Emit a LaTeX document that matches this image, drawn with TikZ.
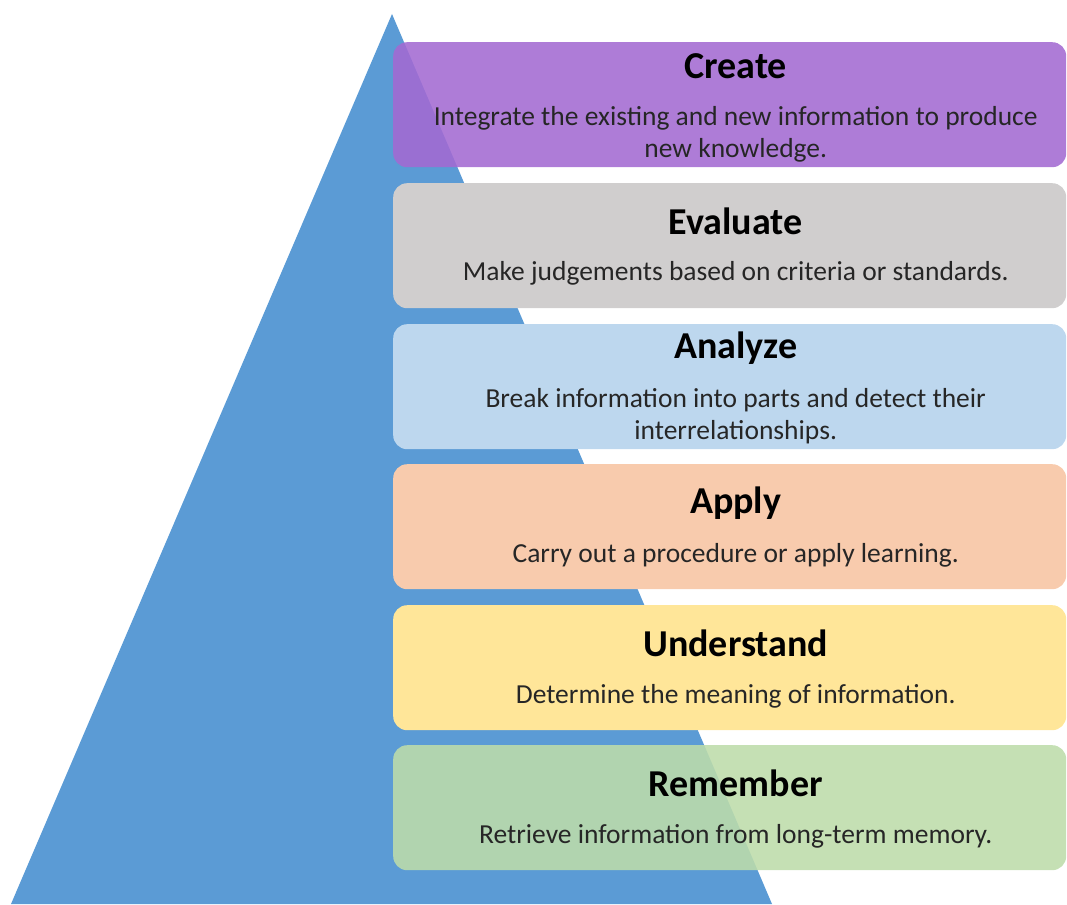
\documentclass[tikz,border=0pt]{standalone}
\usepackage{fontspec}
\setmainfont{Carlito}
\usetikzlibrary{positioning}
\definecolor{azulP}{HTML}{5B9BD5}
\definecolor{lila}{HTML}{A36AD2}
\definecolor{gris}{HTML}{D0CECE}
\definecolor{celeste}{HTML}{BDD7EE}
\definecolor{durazno}{HTML}{F8CBAD}
\definecolor{amarillo}{HTML}{FFE699}
\definecolor{verde}{HTML}{BDDCAA}
\tikzstyle{nivel}=[rectangle, rounded corners=14, minimum width=673, minimum height=125, anchor=north west, inner sep=0]
\tikzstyle{vidrio}=[fill opacity=.88]
\tikzstyle{titulo}=[font=\fontsize{38}{42}\selectfont\bfseries, inner sep=0, text=black]
\tikzstyle{desc}=[font=\fontsize{27.5}{32}\selectfont, inner sep=0, align=center, text=black!85]

\begin{document}
\begin{tikzpicture}[x=1pt,y=-1pt]
		\useasboundingbox (0,0) rectangle (1067,904);
		\fill[azulP] (392,14) -- (772,904) -- (11,904) -- cycle;
		
		\node[nivel,vidrio,fill=lila](create) at (393,42){};
		\node[titulo](createT) at ([xshift=6,yshift=-24]create.north){Create};
		\node[desc](createD) at ([xshift=6,yshift=-92]create.north){Integrate the existing and new information to produce\\new knowledge.};
		
		\node[nivel,fill=gris](evaluate) at (393,183){};
		\node[titulo](evaluateT) at ([xshift=6,yshift=-38]evaluate.north){Evaluate};
		\node[desc](evaluateD) at ([xshift=6,yshift=-90]evaluate.north){Make judgements based on criteria or standards.};
		
		\node[nivel,fill=celeste](analyze) at (393,324){};
		\node[titulo](analyzeT) at ([xshift=6,yshift=-24]analyze.north){Analyze};
		\node[desc](analyzeD) at ([xshift=6,yshift=-92]analyze.north){Break information into parts and detect their\\interrelationships.};
		
		\node[nivel,fill=durazno](apply) at (393,464){};
		\node[titulo](applyT) at ([xshift=6,yshift=-39]apply.north){Apply};
		\node[desc](applyD) at ([xshift=6,yshift=-91]apply.north){Carry out a procedure or apply learning.};
		
		\node[nivel,fill=amarillo](understand) at (393,605){};
		\node[titulo](understandT) at ([xshift=6,yshift=-38]understand.north){Understand};
		\node[desc](understandD) at ([xshift=6,yshift=-91]understand.north){Determine the meaning of information.};
		
		\node[nivel,vidrio,fill=verde](remember) at (393,745){};
		\node[titulo](rememberT) at ([xshift=6,yshift=-38]remember.north){Remember};
		\node[desc](rememberD) at ([xshift=6,yshift=-91]remember.north){Retrieve information from long-term memory.};
	\end{tikzpicture}
\end{document}
